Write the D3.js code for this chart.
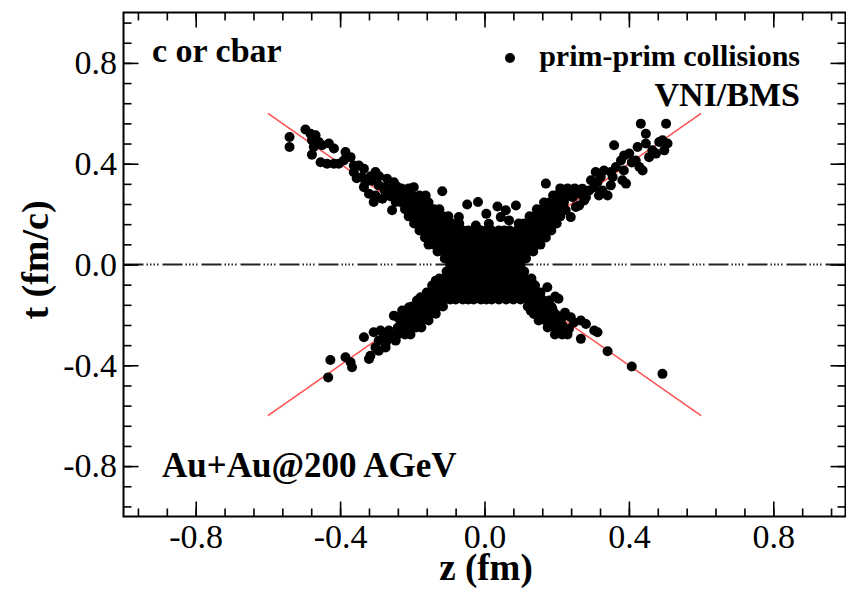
<!DOCTYPE html>
<html>
<head>
<meta charset="utf-8">
<script src="https://cdn.jsdelivr.net/npm/d3@7"></script>
<style>
body { margin: 0; background: #fff; }
text { font-family: "Liberation Serif", "Times New Roman", serif; fill: #000; }
.axis line { stroke: #000; stroke-width: 1.6; }
</style>
</head>
<body>
<svg id="chart" width="846" height="589"></svg>
<script>
// tick values
var majorTicks = [-0.8, -0.4, 0.0, 0.4, 0.8];
var minorTicks = [-0.96, -0.88, -0.8, -0.72, -0.64, -0.56, -0.48, -0.4, -0.32, -0.24, -0.16, -0.08,
                  0, 0.08, 0.16, 0.24, 0.32, 0.4, 0.48, 0.56, 0.64, 0.72, 0.8, 0.88, 0.96];

// light cone lines t = +z and t = -z
var coneZ = [-0.6, 0.6];

// scattered collision points (z, t)
var armUL = [[-0.540,0.506],[-0.540,0.466],[-0.496,0.536],[-0.482,0.519],[-0.468,0.513],[-0.478,0.493],
  [-0.459,0.486],[-0.473,0.466],[-0.450,0.473],[-0.431,0.480],[-0.417,0.460],[-0.478,0.436],[-0.454,0.406],
  [-0.436,0.400],[-0.417,0.400],[-0.404,0.400],[-0.385,0.446],[-0.371,0.426],[-0.348,0.393],[-0.334,0.380],
  [-0.339,0.347],[-0.330,0.327],[-0.302,0.367],[-0.334,0.307],[-0.320,0.281],[-0.293,0.314],[-0.270,0.340],
  [-0.274,0.307],[-0.302,0.274],[-0.283,0.261],[-0.307,0.248],[-0.265,0.274],[-0.237,0.294],[-0.196,0.307],
  [-0.246,0.248],[-0.228,0.254],[-0.256,0.215],[-0.219,0.221],[-0.191,0.234],[-0.200,0.195],[-0.117,0.291],
  [-0.163,0.274],[-0.362,0.366],[-0.315,0.350],[-0.251,0.326],[-0.223,0.286],[-0.209,0.262],[-0.182,0.254],
  [-0.168,0.234],[-0.182,0.207],[-0.312,0.332],[-0.292,0.350],[-0.276,0.294],[-0.259,0.270],[-0.243,0.310],
  [-0.215,0.270],[-0.204,0.215],[-0.362,0.393],[-0.390,0.413],[-0.354,0.342]];
var gapTop = [[-0.071,0.188],[-0.048,0.238],[-0.018,0.248],[0.036,0.230],[0.059,0.215],[0.087,0.234],
  [0.005,0.201],[-0.024,0.155],[0.012,0.162],[0.045,0.188],[0.068,0.175]];
var armUR = [[0.170,0.321],[0.433,0.559],[0.503,0.559],[0.359,0.473],[0.447,0.519],[0.447,0.480],[0.424,0.466],
  [0.465,0.453],[0.484,0.486],[0.507,0.480],[0.498,0.453],[0.475,0.440],[0.456,0.426],[0.387,0.433],[0.401,0.440],
  [0.419,0.413],[0.429,0.387],[0.438,0.373],[0.378,0.413],[0.364,0.387],[0.350,0.367],[0.331,0.373],[0.322,0.347],
  [0.355,0.347],[0.382,0.334],[0.392,0.321],[0.313,0.327],[0.304,0.307],[0.327,0.294],[0.341,0.274],[0.290,0.294],
  [0.271,0.301],[0.262,0.281],[0.281,0.267],[0.234,0.294],[0.244,0.267],[0.221,0.261],[0.207,0.281],[0.198,0.254],
  [0.179,0.241],[0.253,0.228],[0.225,0.215],[0.188,0.215],[0.160,0.215],[0.239,0.188],[0.308,0.367],[0.493,0.493],
  [0.276,0.254],[0.295,0.334],[0.317,0.274],[0.262,0.234],[0.212,0.234],[0.350,0.314],[0.386,0.373],[0.408,0.405]];
var armLL = [[-0.433,-0.448],[-0.427,-0.379],[-0.385,-0.368],[-0.367,-0.408],[-0.371,-0.388],[-0.334,-0.289],
  [-0.316,-0.362],[-0.320,-0.375],[-0.307,-0.269],[-0.288,-0.262],[-0.293,-0.302],[-0.270,-0.302],[-0.246,-0.302],
  [-0.274,-0.329],[-0.293,-0.342],[-0.251,-0.203],[-0.228,-0.183],[-0.219,-0.222],[-0.228,-0.249],[-0.200,-0.170],
  [-0.196,-0.216],[-0.173,-0.183],[-0.177,-0.130],[-0.154,-0.116],[-0.145,-0.163],[-0.163,-0.156],[-0.135,-0.064],
  [-0.135,-0.103],[-0.302,-0.329],[-0.209,-0.170],[-0.265,-0.262],[-0.279,-0.282],[-0.237,-0.214],[-0.187,-0.143],
  [-0.209,-0.242]];
var armLR = [[0.174,-0.090],[0.205,-0.136],[0.179,-0.143],[0.165,-0.170],[0.188,-0.176],[0.170,-0.222],[0.216,-0.209],
  [0.239,-0.209],[0.267,-0.222],[0.216,-0.242],[0.234,-0.255],[0.281,-0.236],[0.304,-0.262],[0.313,-0.269],
  [0.267,-0.295],[0.341,-0.344],[0.408,-0.405],[0.493,-0.434],[0.133,-0.077],[0.142,-0.116],[0.151,-0.156],
  [0.128,-0.183],[0.137,-0.196],[0.160,-0.183],[0.207,-0.236],[0.196,-0.127],[0.223,-0.191],[0.248,-0.230],
  [0.201,-0.203]];

// dense core, one row of z values per t value
var coreT = [0.302, 0.274, 0.246, 0.219, 0.191, 0.163, 0.135, 0.107, 0.079, 0.052, 0.024, 0,
             -0.028, -0.056, -0.083, -0.111, -0.139, -0.167, -0.195, -0.222, -0.250, -0.278];
var coreZ = [
  [-0.25,-0.23,-0.21,0.21,0.23,0.25],
  [-0.24,-0.22,-0.20,-0.18,0.19,0.21,0.23],
  [-0.23,-0.21,-0.19,-0.17,-0.155,0.165,0.18,0.20,0.22],
  [-0.22,-0.20,-0.18,-0.16,-0.14,-0.125,0.145,0.16,0.18,0.20,0.22],
  [-0.21,-0.19,-0.17,-0.15,-0.13,-0.115,-0.10,0.125,0.14,0.16,0.18,0.195,0.21],
  [-0.195,-0.18,-0.16,-0.14,-0.12,-0.105,-0.09,-0.07,0.095,0.11,0.13,0.15,0.165,0.185,0.20],
  [-0.18,-0.165,-0.145,-0.13,-0.11,-0.095,-0.08,-0.06,-0.045,-0.03,-0.01,0.005,0.02,0.04,0.055,0.07,0.09,0.105,0.12,0.14,0.155,0.17,0.185],
  [-0.165,-0.15,-0.13,-0.115,-0.10,-0.08,-0.065,-0.05,-0.03,-0.015,0.0,0.02,0.035,0.05,0.07,0.085,0.10,0.12,0.135,0.15,0.17],
  [-0.155,-0.14,-0.12,-0.105,-0.09,-0.07,-0.055,-0.04,-0.02,-0.005,0.01,0.03,0.045,0.06,0.08,0.095,0.11,0.13,0.145,0.155],
  [-0.13,-0.115,-0.10,-0.08,-0.065,-0.05,-0.03,-0.015,0.0,0.02,0.035,0.05,0.07,0.085,0.10,0.12,0.135],
  [-0.11,-0.095,-0.08,-0.06,-0.045,-0.03,-0.01,0.005,0.02,0.04,0.055,0.07,0.09,0.105,0.115],
  [-0.095,-0.08,-0.065,-0.05,-0.03,-0.015,0.0,0.02,0.035,0.05,0.07,0.085,0.10],
  [-0.105,-0.09,-0.07,-0.055,-0.04,-0.02,-0.005,0.01,0.03,0.045,0.06,0.08,0.095,0.11],
  [-0.125,-0.11,-0.09,-0.075,-0.06,-0.04,-0.025,-0.01,0.01,0.025,0.04,0.06,0.075,0.09,0.11,0.13],
  [-0.145,-0.13,-0.11,-0.095,-0.08,-0.06,-0.045,-0.03,-0.01,0.005,0.02,0.04,0.055,0.07,0.09,0.105,0.12,0.14],
  [-0.16,-0.145,-0.125,-0.11,-0.095,-0.075,-0.06,-0.045,-0.025,-0.01,0.005,0.025,0.04,0.055,0.075,0.09,0.105,0.125,0.14,0.155],
  [-0.18,-0.165,-0.145,-0.13,-0.11,-0.095,-0.08,-0.06,-0.045,-0.03,-0.01,0.005,0.02,0.04,0.06,0.08,0.10,0.12,0.14,0.16],
  [-0.20,-0.185,-0.165,-0.15,-0.13,-0.115,0.12,0.135,0.15,0.17,0.185],
  [-0.215,-0.20,-0.18,-0.165,-0.15,-0.135,0.14,0.155,0.175,0.195],
  [-0.23,-0.21,-0.195,-0.175,-0.155,0.15,0.17,0.19,0.205],
  [-0.24,-0.225,-0.205,-0.19,-0.175,0.175,0.195,0.21],
  [-0.26,-0.24,-0.22,-0.205,0.195,0.215,0.23]
];

var corePts = [];
coreT.forEach(function(t, i) {
  coreZ[i].forEach(function(z) { corePts.push([z, t]); });
});
var allPts = corePts.concat(armUL, gapTop, armUR, armLL, armLR);

var svg = d3.select("#chart");
var x = d3.scaleLinear().domain([-1, 1]).range([123.5, 845.5]);
var y = d3.scaleLinear().domain([-1, 1]).range([516.5, 12.5]);

// frame
svg.append("rect")
    .attr("x", x(-1)).attr("y", y(1))
    .attr("width", x(1) - x(-1)).attr("height", y(-1) - y(1))
    .attr("fill", "none").attr("stroke", "#000").attr("stroke-width", 2);

// t = 0 line, dash-dot-dot-dot
svg.append("line")
    .attr("x1", x(-1)).attr("x2", x(1))
    .attr("y1", y(0)).attr("y2", y(0))
    .attr("stroke", "#222").attr("stroke-width", 2)
    .attr("stroke-dasharray", "20,3,1.5,2,1.5,2,1.5,2,1.5,4");

// red light cone lines
svg.append("line")
    .attr("x1", x(coneZ[0])).attr("y1", y(-coneZ[0]))
    .attr("x2", x(coneZ[1])).attr("y2", y(-coneZ[1]))
    .attr("stroke", "#ff5050").attr("stroke-width", 1.5);
svg.append("line")
    .attr("x1", x(coneZ[0])).attr("y1", y(coneZ[0]))
    .attr("x2", x(coneZ[1])).attr("y2", y(coneZ[1]))
    .attr("stroke", "#ff5050").attr("stroke-width", 1.5);

// points
svg.append("g").selectAll("circle")
    .data(allPts)
  .enter().append("circle")
    .attr("cx", function(d) { return x(d[0]); })
    .attr("cy", function(d) { return y(d[1]); })
    .attr("r", 5)
    .attr("fill", "#000");

// axes, ticks pointing inward on all four sides
var fmt = d3.format(".1f");
function addAxis(axisFn, scale, values, size, tr, pad) {
  var g = svg.append("g")
      .attr("class", "axis")
      .attr("transform", tr)
      .call(axisFn(scale)
          .tickValues(values)
          .tickSize(-size)
          .tickPadding(pad || 0)
          .tickFormat(function(d) { return pad ? fmt(d).replace("\u2212", "-") : ""; }));
  g.select(".domain").remove();
  g.selectAll("text")
      .attr("font-family", "Liberation Serif, Times New Roman, serif")
      .attr("font-size", 34)
      .attr("fill", "#000");
  return g;
}
addAxis(d3.axisBottom, x, minorTicks, 8, "translate(0," + y(-1) + ")");
addAxis(d3.axisBottom, x, majorTicks, 15, "translate(0," + y(-1) + ")", 7.5);
addAxis(d3.axisTop, x, minorTicks, 8, "translate(0," + y(1) + ")");
addAxis(d3.axisTop, x, majorTicks, 15, "translate(0," + y(1) + ")");
addAxis(d3.axisLeft, y, minorTicks, 8, "translate(" + x(-1) + ",0)");
addAxis(d3.axisLeft, y, majorTicks, 15, "translate(" + x(-1) + ",0)", 6.5);
addAxis(d3.axisRight, y, minorTicks, 8, "translate(" + x(1) + ",0)");
addAxis(d3.axisRight, y, majorTicks, 15, "translate(" + x(1) + ",0)");

// axis titles
svg.append("text")
    .attr("x", 486).attr("y", 580)
    .attr("text-anchor", "middle")
    .attr("font-weight", "bold").attr("font-size", 37)
    .text("z (fm)");
svg.append("text")
    .attr("transform", "translate(48,260) rotate(-90)")
    .attr("text-anchor", "middle")
    .attr("font-weight", "bold").attr("font-size", 38)
    .text("t (fm/c)");

// annotations
svg.append("text")
    .attr("x", 152).attr("y", 62)
    .attr("font-weight", "bold").attr("font-size", 34)
    .text("c or cbar");
svg.append("text")
    .attr("x", 162).attr("y", 477)
    .attr("font-weight", "bold").attr("font-size", 35)
    .text("Au+Au@200 AGeV");
svg.append("text")
    .attr("x", 800).attr("y", 106)
    .attr("text-anchor", "end")
    .attr("font-weight", "bold").attr("font-size", 34)
    .text("VNI/BMS");

// legend
svg.append("circle")
    .attr("cx", 510).attr("cy", 58).attr("r", 5).attr("fill", "#000");
svg.append("text")
    .attr("x", 800).attr("y", 66)
    .attr("text-anchor", "end")
    .attr("font-weight", "bold").attr("font-size", 30)
    .text("prim-prim collisions");
</script>
</body>
</html>
